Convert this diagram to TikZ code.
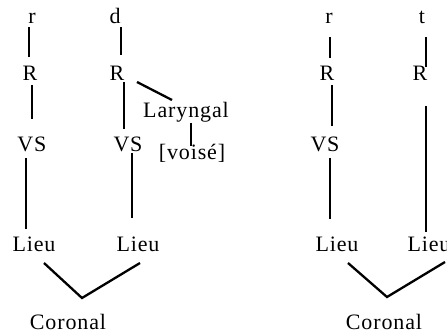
\documentclass[tikz,border=0pt]{standalone}
\usepackage{fontspec}
\setmainfont[LetterSpace=4]{Liberation Serif}
\begin{document}
\begin{tikzpicture}[x=1pt,y=-1pt,
  lab/.style={anchor=base,inner sep=0pt,font=\fontsize{22}{25}\selectfont},
  link/.style={line width=2.3pt}]
\useasboundingbox (0,0) rectangle (447,334);

% r tree
\node[lab] (r1) at (32,24) {r};
\node[lab] (R1) at (30,81) {R};
\node[lab] (VS1) at (32,151) {VS};
\node[lab] (Lieu1) at (34,251) {Lieu};

% d tree
\node[lab] (d) at (115,24) {d};
\node[lab] (R2) at (117,81) {R};
\node[lab] (VS2) at (128,151) {VS};
\node[lab] (Lieu2) at (138,251) {Lieu};
\node[lab] (Lar) at (186,118) {Laryngal};
\node[lab] (vois) at (192,160) {[voisé]};
\node[lab] (Cor1) at (68,329) {Coronal};

% r tree and t tree
\node[lab] (r3) at (329,24) {r};
\node[lab] (R3) at (327,81) {R};
\node[lab] (VS3) at (325,151) {VS};
\node[lab] (Lieu3) at (337,251) {Lieu};
\node[lab] (t) at (422,24) {t};
\node[lab] (R4) at (420,81) {R};
\node[lab] (Lieu4) at (429,251) {Lieu};
\node[lab] (Cor2) at (384,329) {Coronal};

% association lines
\draw[link] ([shift={(-3,3)}]r1.base) -- ([shift={(-1,-24)}]R1.base);
\draw[link] ([shift={(2,4)}]R1.base) -- ([shift={(0,-32)}]VS1.base);
\draw[link] ([shift={(-6,7)}]VS1.base) -- ([shift={(-8,-22)}]Lieu1.base);
\draw[link] ([shift={(10,12)}]Lieu1.base) -- ([shift={(14,-31)}]Cor1.base) -- ([shift={(2,12)}]Lieu2.base);

\draw[link] ([shift={(6,3)}]d.base) -- ([shift={(4,-26)}]R2.base);
\draw[link] ([shift={(7,1)}]R2.base) -- ([shift={(-4,-22)}]VS2.base);
\draw[link] ([shift={(20,1)}]R2.base) -- ([shift={(-14,-18)}]Lar.base);
\draw[link] ([shift={(5,5)}]Lar.base) -- ([shift={(-1,-14)}]vois.base);
\draw[link] ([shift={(4,2)}]VS2.base) -- ([shift={(-6,-33)}]Lieu2.base);

\draw[link] ([shift={(1,13)}]r3.base) -- ([shift={(3,-23)}]R3.base);
\draw[link] ([shift={(5,4)}]R3.base) -- ([shift={(7,-25)}]VS3.base);
\draw[link] ([shift={(5,7)}]VS3.base) -- ([shift={(-7,-32)}]Lieu3.base);
\draw[link] ([shift={(11,12)}]Lieu3.base) -- ([shift={(3,-32)}]Cor2.base) -- ([shift={(16,11)}]Lieu4.base);

\draw[link] ([shift={(4,13)}]t.base) -- ([shift={(6,-14)}]R4.base);
\draw[link] ([shift={(6,25)}]R4.base) -- ([shift={(-3,-19)}]Lieu4.base);
\end{tikzpicture}
\end{document}
